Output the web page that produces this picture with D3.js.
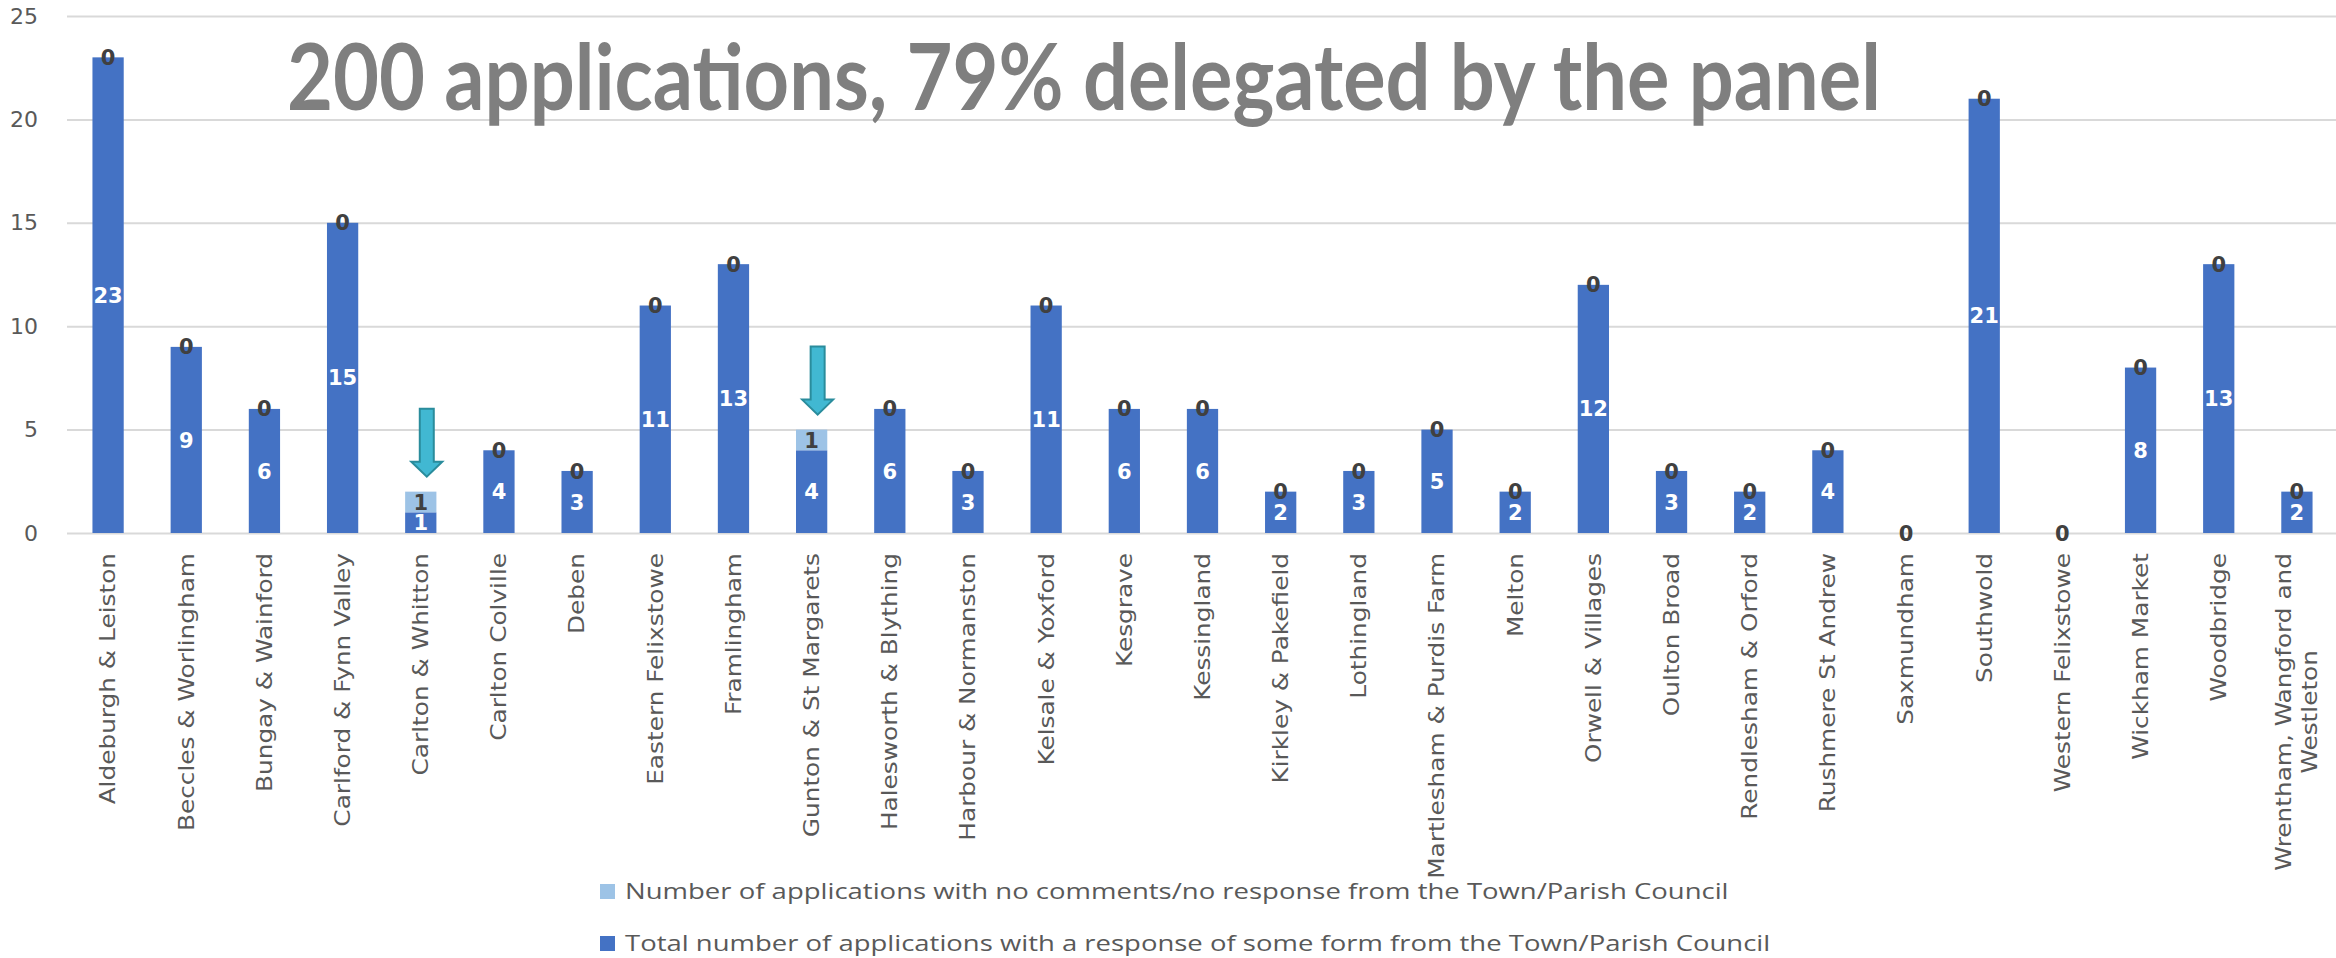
<!DOCTYPE html>
<html>
<head>
<meta charset="utf-8">
<script src="https://cdn.jsdelivr.net/npm/d3@7"></script>
<style>
  html, body { margin: 0; padding: 0; background: #ffffff; overflow: hidden; }
  svg { display: block; }
</style>
</head>
<body>
<svg id="chart" width="2336" height="958"></svg>
<script>
// Planning applications by ward, split by Town/Parish Council response
const categories = [
  "Aldeburgh & Leiston", "Beccles & Worlingham", "Bungay & Wainford", "Carlford & Fynn Valley",
  "Carlton & Whitton", "Carlton Colville", "Deben", "Eastern Felixstowe", "Framlingham",
  "Gunton & St Margarets", "Halesworth & Blything", "Harbour & Normanston", "Kelsale & Yoxford",
  "Kesgrave", "Kessingland", "Kirkley & Pakefield", "Lothingland", "Martlesham & Purdis Farm",
  "Melton", "Orwell & Villages", "Oulton Broad", "Rendlesham & Orford", "Rushmere St Andrew",
  "Saxmundham", "Southwold", "Western Felixstowe", "Wickham Market", "Woodbridge",
  "Wrentham, Wangford and Westleton"
];
const withResponse = [23, 9, 6, 15, 1, 4, 3, 11, 13, 4, 6, 3, 11, 6, 6, 2, 3, 5, 2, 12, 3, 2, 4, 0, 21, 0, 8, 13, 2];
const noResponse   = [0, 0, 0, 0, 1, 0, 0, 0, 0, 1, 0, 0, 0, 0, 0, 0, 0, 0, 0, 0, 0, 0, 0, 0, 0, 0, 0, 0, 0];
const yTicks = [0, 5, 10, 15, 20, 25];
const seriesKeys = ["withResponse", "noResponse"];
const legendLabels = [
  "Number of applications with no comments/no response from the Town/Parish Council",
  "Total number of applications with a response of some form from the Town/Parish Council"
];
const titleText = "200 applications, 79% delegated by the panel";

const colors = { withResponse: "#4472C4", noResponse: "#9DC3E6" };

const svg = d3.select("#chart");
const plotLeft = 69, plotRight = 2336, plotTop = 16, plotBottom = 533;

const rows = categories.map((c, i) => ({ category: c, withResponse: withResponse[i], noResponse: noResponse[i] }));
const stacked = d3.stack().keys(seriesKeys)(rows);

const x = d3.scaleBand().domain(categories).range([plotLeft, plotRight]).paddingInner(0.6).paddingOuter(0.3);
const y = d3.scaleLinear().domain([0, 25]).range([plotBottom, plotTop]);

// Value axis with gridlines
const yAxis = svg.append("g")
  .attr("transform", `translate(${plotLeft - 2},0)`)
  .call(d3.axisLeft(y).tickValues(yTicks).tickSize(-(plotRight - plotLeft + 2)).tickPadding(29));
yAxis.select(".domain").remove();
yAxis.selectAll(".tick line").attr("stroke", "#d9d9d9").attr("stroke-width", 2);
yAxis.selectAll(".tick text")
  .attr("fill", "#595959")
  .style("font-family", "'DejaVu Sans', sans-serif")
  .style("font-size", "22px");

// Fit a text to a given width, then stretch it vertically to a given cap height
function fitText(sel, width, capHeight, capRatio) {
  const node = sel.node();
  const base = parseFloat(sel.style("font-size"));
  const w = node.getComputedTextLength();
  const size = base * width / w;
  sel.style("font-size", size + "px");
  return capHeight / (capRatio * size);
}

// Title
const title = svg.append("text")
  .attr("fill", "#7f7f7f")
  .style("font-family", "Lato, 'Open Sans', sans-serif")
  .style("font-weight", 700)
  .style("font-size", "80px")
  .text(titleText);
const titleStretch = fitText(title, 1594, 66, 0.72);
title.attr("transform", `translate(287,110) scale(1,${titleStretch})`);

// Stacked bars
const layers = svg.append("g").selectAll("g.layer").data(stacked).join("g")
  .attr("class", "layer")
  .attr("fill", d => colors[d.key]);
layers.selectAll("rect").data(d => d).join("rect")
  .attr("x", d => x(d.data.category))
  .attr("width", x.bandwidth())
  .attr("y", d => y(d[1]))
  .attr("height", d => y(d[0]) - y(d[1]));

// Data labels: white inside the response segment, dark for the no-response segment
const labelFont = "'DejaVu Sans', sans-serif";
svg.append("g").selectAll("text").data(stacked[0]).join("text")
  .attr("x", d => x(d.data.category) + x.bandwidth() / 2)
  .attr("y", d => y((d[0] + d[1]) / 2))
  .attr("dy", "0.36em")
  .attr("text-anchor", "middle")
  .attr("fill", "#ffffff")
  .style("font-family", labelFont).style("font-weight", 700).style("font-size", "21px")
  .text(d => d[1] - d[0]);
svg.append("g").selectAll("text").data(stacked[1]).join("text")
  .attr("x", d => x(d.data.category) + x.bandwidth() / 2)
  .attr("y", d => y((d[0] + d[1]) / 2))
  .attr("dy", "0.36em")
  .attr("text-anchor", "middle")
  .attr("fill", "#404040")
  .style("font-family", labelFont).style("font-weight", 700).style("font-size", "21px")
  .text(d => d[1] - d[0]);

// Category labels, rotated; long names wrap onto a second, centred line
function wrapName(name, maxChars) {
  if (name.length <= maxChars) return [name];
  const words = name.split(" ");
  const lines = [];
  let line = "";
  words.forEach(w => {
    const t = line ? line + " " + w : w;
    if (t.length > maxChars && line) { lines.push(line); line = w; } else { line = t; }
  });
  lines.push(line);
  return lines;
}
const lineGap = 26;
const catLabels = svg.append("g").selectAll("g").data(categories).join("g")
  .attr("transform", d => `translate(${x(d) + x.bandwidth() / 2},553) rotate(-90) scale(1.18,1)`);
catLabels.each(function (d) {
  const g = d3.select(this);
  const lines = wrapName(d, 26);
  const n = lines.length;
  let firstLen = 0;
  lines.forEach((ln, i) => {
    const t = g.append("text")
      .attr("y", (i - (n - 1) / 2) * lineGap)
      .attr("dy", "0.35em")
      .attr("fill", "#595959")
      .style("font-family", "'DejaVu Sans', sans-serif")
      .style("font-size", "21px")
      .text(ln);
    if (i === 0) {
      t.attr("x", 0).attr("text-anchor", "end");
      firstLen = t.node().getComputedTextLength();
    } else {
      t.attr("x", -firstLen / 2).attr("text-anchor", "middle");
    }
  });
});

// Arrows pointing at wards that had applications with no response
const flagged = rows.filter(r => r.noResponse > 0);
const arrowLen = 68, headLen = 15, shaftHalf = 7, headHalf = 15.5;
svg.append("g").selectAll("path").data(flagged).join("path")
  .attr("d", r => {
    const cx = x(r.category) + x.bandwidth() / 2 + 6;
    const tip = y(r.withResponse + r.noResponse) - 15;
    const t0 = tip - arrowLen, hb = tip - headLen;
    return `M${cx - shaftHalf},${t0} L${cx + shaftHalf},${t0} L${cx + shaftHalf},${hb} L${cx + headHalf},${hb} ` +
           `L${cx},${tip} L${cx - headHalf},${hb} L${cx - shaftHalf},${hb} Z`;
  })
  .attr("fill", "#41b8d2")
  .attr("stroke", "#2a8c9c")
  .attr("stroke-width", 2)
  .attr("stroke-linejoin", "miter");

// Legend
const legendRows = [
  { key: "noResponse", label: legendLabels[0], y: 884, len: 1104 },
  { key: "withResponse", label: legendLabels[1], y: 936, len: 1146 }
];
const lg = svg.append("g").selectAll("g").data(legendRows).join("g")
  .attr("transform", d => `translate(600,${d.y})`);
lg.append("rect").attr("width", 15).attr("height", 15).attr("fill", d => colors[d.key]);
lg.append("text")
  .attr("fill", "#595959")
  .style("font-family", "'Open Sans', sans-serif")
  .style("font-size", "22px")
  .text(d => d.label)
  .each(function (d) {
    const t = d3.select(this);
    const k = fitText(t, d.len, 16, 0.714);
    t.attr("transform", `translate(25,15) scale(1,${k})`);
  });
</script>
</body>
</html>
